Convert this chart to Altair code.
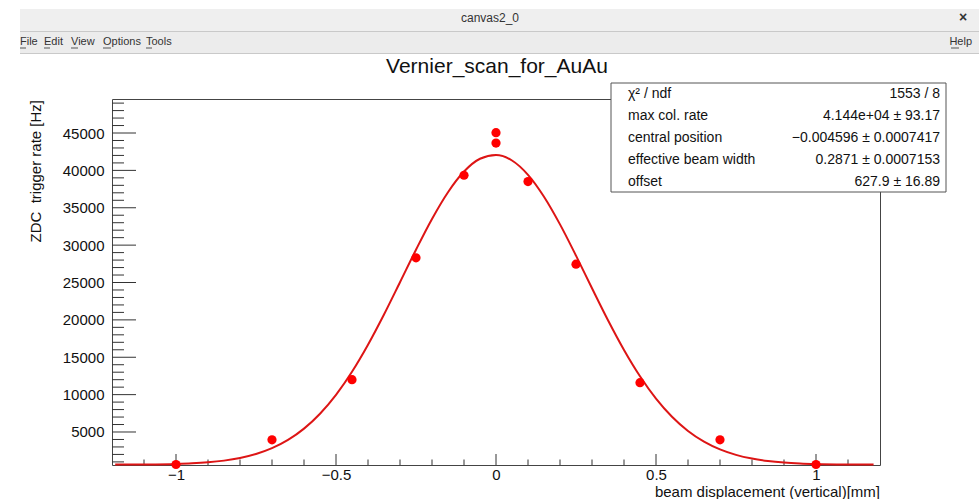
import altair as alt
import pandas as pd

# ---- data ----
pt_x = [-1.0, -0.7, -0.45, -0.25, -0.1, 0.0, 0.0, 0.1, 0.25, 0.45, 0.7, 1.0]
pt_y = [650, 3950, 12000, 28300, 39350, 45050, 43650, 38500, 27450, 11600, 3950, 650]

curve_x = [-1.19, -1.1, -1.0, -0.95, -0.9, -0.85, -0.8, -0.75, -0.7, -0.65, -0.6, -0.55,
           -0.5, -0.45, -0.4, -0.35, -0.3, -0.25, -0.2, -0.15, -0.1, -0.05, 0.0,
           0.05, 0.1, 0.15, 0.2, 0.25, 0.3, 0.35, 0.4, 0.45, 0.5, 0.55, 0.6, 0.65,
           0.7, 0.75, 0.8, 0.85, 0.9, 0.95, 1.0, 1.1, 1.18]
curve_y = [636, 657, 730, 811, 948, 1171, 1521, 2053, 2834, 3940, 5453, 7448,
           9979, 13067, 16681, 20724, 25037, 29386, 33501, 37080, 39843, 41553, 42063,
           41325, 39407, 36475, 32776, 28596, 24232, 19954, 15979, 12458, 9471, 7042, 5140, 3708,
           2668, 1938, 1444, 1122, 917, 793, 719, 653, 636]

x_labels = [-1, -0.5, 0, 0.5, 1]
y_labels = [5000, 10000, 15000, 20000, 25000, 30000, 35000, 40000, 45000]

stat_names = ["χ² / ndf", "max col. rate", "central position", "effective beam width", "offset"]
stat_values = ["1553 / 8", "4.144e+04 ± 93.17", "−0.004596 ± 0.0007417",
               "0.2871 ± 0.0007153", "627.9 ± 16.89"]

title = "Vernier_scan_for_AuAu"
x_title = "beam displacement (vertical)[mm]"
y_title = "ZDC\u00a0 trigger rate [Hz]"

FONT = "Liberation Sans"
W, H = 768, 366
xs = alt.Scale(domain=[-1.2, 1.2], nice=False, zero=False)
ys = alt.Scale(domain=[585, 49550], nice=False, zero=False)

one = alt.Data(values=[{"a": 1}])


def txt(s, x, y, size, align="left", color="#111", angle=None, baseline="middle", weight="normal"):
    kw = dict(text=s, fontSize=size, font=FONT, align=align, baseline=baseline,
              color=color, fontWeight=weight)
    if angle is not None:
        kw["angle"] = angle
    return alt.Chart(one).mark_text(**kw).encode(x=alt.value(x), y=alt.value(y))


def rect(x1, x2, y1, y2, fill, stroke=None):
    kw = dict(fill=fill)
    if stroke:
        kw.update(stroke=stroke, strokeWidth=1)
    return alt.Chart(one).mark_rect(**kw).encode(
        x=alt.value(x1), x2=alt.value(x2), y=alt.value(y1), y2=alt.value(y2))


def hline(x1, x2, y, color):
    return alt.Chart(one).mark_rule(color=color, strokeWidth=1).encode(
        x=alt.value(x1), x2=alt.value(x2), y=alt.value(y))


# ---- main layers ----
pts = pd.DataFrame({"x": pt_x, "y": pt_y})
crv = pd.DataFrame({"x": curve_x, "y": curve_y})

base_axes = alt.Chart(pts).mark_point(opacity=0).encode(
    x=alt.X("x:Q", scale=xs, title=None,
            axis=alt.Axis(values=x_labels, format="~g", labelFontSize=15, labelFont=FONT,
                          labelColor="#111", ticks=False, domain=False, grid=False,
                          labelPadding=2)),
    y=alt.Y("y:Q", scale=ys, title=None,
            axis=alt.Axis(values=y_labels, format="d", labelFontSize=15, labelFont=FONT,
                          labelColor="#111", ticks=False, domain=False, grid=False,
                          labelPadding=8)),
)

curve = alt.Chart(crv).mark_line(color="#dd1515", strokeWidth=2, interpolate="monotone").encode(
    x=alt.X("x:Q", scale=xs), y=alt.Y("y:Q", scale=ys))

points = alt.Chart(pts).mark_point(filled=True, color="#ff0000", opacity=1, size=85).encode(
    x=alt.X("x:Q", scale=xs), y=alt.Y("y:Q", scale=ys))

# inward ticks (ROOT style)
ymin_t = pd.DataFrame({"v": [v for v in range(1000, 49001, 1000) if v % 5000 != 0]})
ymaj_t = pd.DataFrame({"v": [v for v in range(5000, 49001, 5000)]})
xmin_t = pd.DataFrame({"v": [round(i / 10, 1) for i in range(-11, 12) if i % 5 != 0]})
xmaj_t = pd.DataFrame({"v": [round(i / 10, 1) for i in range(-10, 11, 5)]})

tick_c = "#333333"
ytick_min = alt.Chart(ymin_t).mark_rule(color=tick_c).encode(
    y=alt.Y("v:Q", scale=ys), x=alt.value(0), x2=alt.value(12))
ytick_maj = alt.Chart(ymaj_t).mark_rule(color=tick_c).encode(
    y=alt.Y("v:Q", scale=ys), x=alt.value(0), x2=alt.value(24))
xtick_min = alt.Chart(xmin_t).mark_rule(color=tick_c).encode(
    x=alt.X("v:Q", scale=xs), y=alt.value(H), y2=alt.value(H - 5.5))
xtick_maj = alt.Chart(xmaj_t).mark_rule(color=tick_c).encode(
    x=alt.X("v:Q", scale=xs), y=alt.value(H), y2=alt.value(H - 11))

# ---- stats box ----
L, T = 112, 99   # plot origin in page pixels
stats = [rect(611 - L, 946 - L, 83 - T, 192 - T, "white", stroke="#555555")]
for i, (n, v) in enumerate(zip(stat_names, stat_values)):
    yy = 94 - T + 22 * i
    stats.append(txt(n, 628 - L, yy, 14))
    stats.append(txt(v, 940 - L, yy, 14, align="right"))

# ---- titles ----
titles = [
    txt(title, 497 - L, 67 - T, 21, align="center"),
    txt(x_title, 880 - L, 491.5 - T, 15, align="right"),
    txt(y_title, 36 - L, 100 - T, 15, align="right", angle=270),
]

# ---- window chrome ----
chrome = [
    rect(20 - L, 979 - L, 9 - T, 31 - T, "#efefef"),
    rect(20 - L, 979 - L, 32 - T, 53 - T, "#ececec"),
    hline(20 - L, 979 - L, 31.5 - T, "#c9c9c9"),
    hline(20 - L, 979 - L, 53.5 - T, "#c9c9c9"),
    txt("canvas2_0", 490 - L, 18 - T, 12, align="center", color="#333"),
    txt("×", 963 - L, 18 - T, 14, align="center", color="#333", weight="bold"),
    txt("File", 20 - L, 42 - T, 11, color="#333"),
    txt("Edit", 44 - L, 42 - T, 11, color="#333"),
    txt("View", 71 - L, 42 - T, 11, color="#333"),
    txt("Options", 103 - L, 42 - T, 11, color="#333"),
    txt("Tools", 146 - L, 42 - T, 11, color="#333"),
    txt("Help", 972 - L, 42 - T, 11, align="right", color="#333"),
]
for a, b in [(20, 26), (44, 50), (71, 78), (103, 111), (146, 152), (951, 959)]:
    chrome.append(hline(a - L, b - L, 48 - T, "#555"))

chart = alt.layer(
    base_axes, ytick_min, ytick_maj, xtick_min, xtick_maj, curve, points,
    *stats, *titles, *chrome
).properties(
    width=W, height=H,
    autosize=alt.AutoSizeParams(type="none"),
    padding={"left": L, "top": T, "right": 979 - L - W, "bottom": 499 - T - H},
    background="white",
).configure_view(stroke="#444444", strokeWidth=1)

chart.save("out.html", embed_options={"renderer": "svg", "actions": False})
